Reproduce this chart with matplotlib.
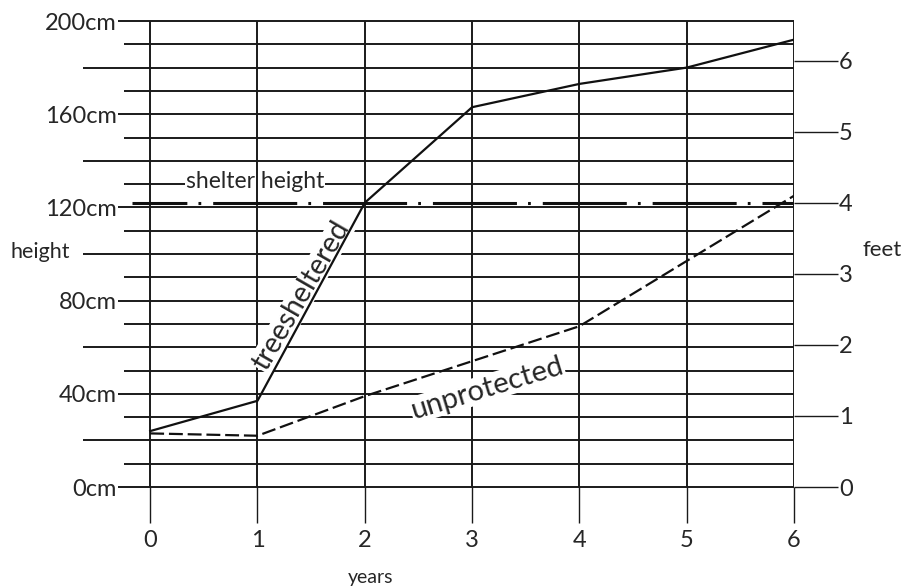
import matplotlib
matplotlib.use("Agg")
import matplotlib.pyplot as plt

plt.rcParams['font.family'] = ['Lato', 'DejaVu Sans']
plt.rcParams['lines.scale_dashes'] = False

# data
years = [0, 1, 2, 3, 4, 5, 6]
sheltered_cm = [24, 37, 122, 163, 173, 180, 192]
unprotected_cm = [23, 22, 39, 54, 69, 97, 125]
shelter_cm = 122          # 4 feet
cm_ticks = [0, 40, 80, 120, 160, 200]
cm_labels = ["0cm", "40cm", "80cm", "120cm", "160cm", "200cm"]
feet_ticks = [0, 1, 2, 3, 4, 5, 6]
CM_PER_FOOT = 30.48

fig = plt.figure(figsize=(9.02, 5.88), dpi=100)
fig.patch.set_facecolor("white")
ax = fig.add_axes([118 / 902, 101 / 588, 676 / 902, 466 / 588])
ax.set_xlim(-0.30, 6)
ax.set_ylim(0, 200)
for s in ax.spines.values():
    s.set_visible(False)

grid_kw = dict(color="#1a1a1a", lw=1.4)
txt_col = "#262626"

# horizontal rules every 10 cm, some reach further left
for v in range(0, 201, 10):
    if v % 40 == 0:
        x0 = -0.30
    elif v % 20 == 0:
        x0 = -0.624
    else:
        x0 = -0.242
    ax.hlines(v, x0, 6, clip_on=False, zorder=1, **grid_kw)

# vertical rules at each year
ax.vlines(years, 0, 200, zorder=3, **grid_kw)

ax.set_xticks(years)
ax.tick_params(axis="x", length=26, width=1.0, color="#1a1a1a", pad=5,
               labelsize=17, labelcolor=txt_col)
ax.set_yticks(cm_ticks, cm_labels)
ax.tick_params(axis="y", length=0, pad=1, labelsize=17, labelcolor=txt_col)

ax.set_xlabel("years", fontsize=14, color=txt_col, va="top")
ax.xaxis.set_label_coords(0.374, -0.175)
ax.set_ylabel("height", rotation=0, fontsize=15.5, color=txt_col,
              ha="center", va="center")
ax.yaxis.set_label_coords(-0.115, 0.504)

# right axis in feet
ax2 = ax.twinx()
ax2.set_ylim(0, 200 / CM_PER_FOOT)
for s in ax2.spines.values():
    s.set_visible(False)
ax2.set_yticks(feet_ticks)
ax2.tick_params(axis="y", length=31.5, width=1.0, color="#1a1a1a", pad=1,
                labelsize=17, labelcolor=txt_col)
ax2.set_ylabel("feet", rotation=0, fontsize=16, color=txt_col,
               ha="center", va="center")
ax2.yaxis.set_label_coords(1.13, 0.509)

# shelter height line
ax.hlines(shelter_cm, -0.168, 6, color="#111111", lw=2.2, zorder=4,
          linestyles=[(21, (60.5, 8, 2, 8.6))])

# growth curves
ax.plot(years, sheltered_cm, color="#111111", lw=1.6, zorder=5)
ax.plot(years, unprotected_cm, color="#111111", lw=1.6, zorder=5,
        dashes=(10, 3.5))

box = dict(facecolor="white", edgecolor="none", pad=0.5)
ax.text(0.98, 131, "shelter height", fontsize=16.5, color=txt_col,
        ha="center", va="center", bbox=box, zorder=2)
ax.text(1.41, 82, "treesheltered", fontsize=20.5, color=txt_col,
        ha="center", va="center", rotation=60, bbox=box, zorder=4)
ax.text(3.14, 42.5, "unprotected", fontsize=21, color=txt_col,
        ha="center", va="center", rotation=17, bbox=box, zorder=4)

fig.savefig("out.png", dpi=100)
